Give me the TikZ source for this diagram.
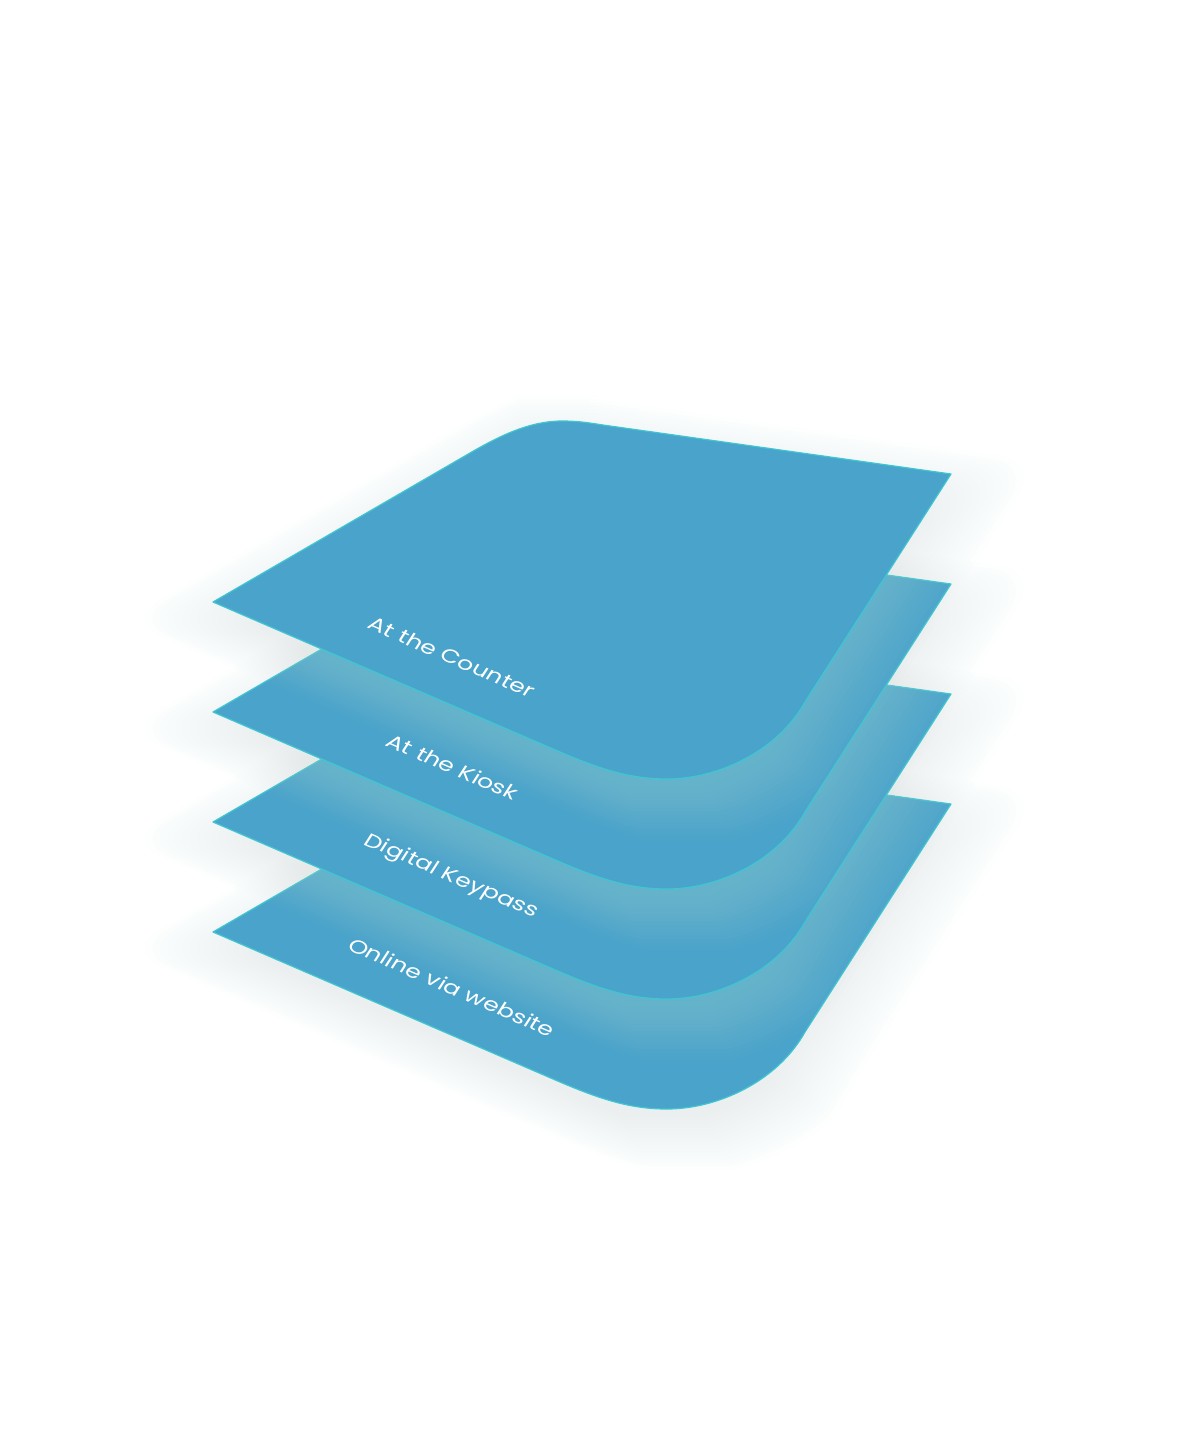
\documentclass[tikz,border=0pt]{standalone}
\usepackage{fontspec}
\setmainfont{Poppins}
\definecolor{layerfill}{RGB}{74,163,202}
\definecolor{layeredge}{RGB}{62,198,210}
\definecolor{glowc}{RGB}{196,234,208}
\def\LyrPath{(213,602) -- (560,752) .. controls (600,769) and (630,779) .. (667,779) .. controls (717,779) and (777,752) .. (805,702) -- (951,474) -- (610,426) .. controls (595,424) and (582,421) .. (562,421) .. controls (530,421) and (500,435.6) .. (470,453) -- cycle}
\tikzset{
  glowfill/.style={fill=glowc, opacity=0.019, rounded corners=40},
  layerbox/.style={fill=layerfill, draw=layeredge, line width=1.2, line join=round},
  lbl/.style={text=white, font=\fontsize{24.5}{28}\selectfont, inner sep=0pt,
    cm={0.917,-0.397,0.434,0.672,(0,0)}}
}
\begin{document}
\begin{tikzpicture}[x=1pt,y=-1pt]
\useasboundingbox (0,0) rectangle (1186,1430);
\fill[white] (0,0) rectangle (1186,1430);
\foreach \i in {3,2,1,0}{
  \begin{scope}[shift={(0,110*\i)}]
    \foreach \s in {0.94,0.96,...,1.26}{
      \begin{scope}[shift={(0,18)}, scale around={\s:(582,600)}]
        \path[glowfill] \LyrPath;
      \end{scope}
    }
    \path[layerbox] \LyrPath;
  \end{scope}
}
\node[lbl] (t1) at (452,657) {At the Counter};
\node[lbl] (t2) at (453,767) {At the Kiosk};
\node[lbl] (t3) at (451,877) {Digital Keypass};
\node[lbl] (t4) at (452,987) {Online via website};
\end{tikzpicture}
\end{document}
